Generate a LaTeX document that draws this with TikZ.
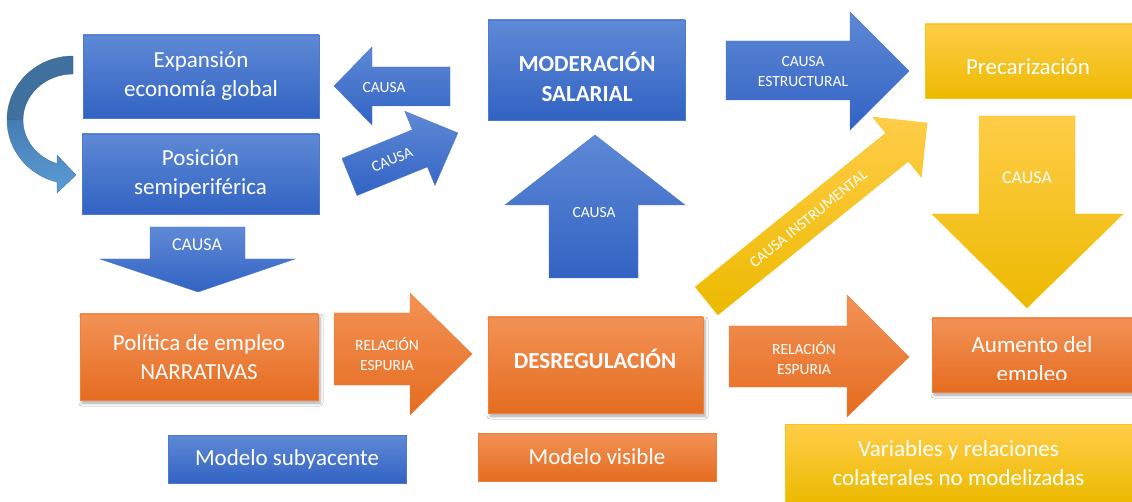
\documentclass[tikz,border=0pt]{standalone}
\usepackage{fontspec}
\setmainfont{Carlito}
\usetikzlibrary{shadows.blur}
\definecolor{bluetop}{RGB}{94,137,214}
\definecolor{bluebot}{RGB}{50,99,195}
\definecolor{blueline}{RGB}{78,122,204}
\definecolor{orangetop}{RGB}{242,146,86}
\definecolor{orangebot}{RGB}{229,108,32}
\definecolor{orangeline}{RGB}{238,128,60}
\definecolor{yellowtop}{RGB}{255,205,72}
\definecolor{yellowbot}{RGB}{236,186,0}
\definecolor{yellowline}{RGB}{252,194,20}
\definecolor{curveback}{RGB}{64,112,158}
\definecolor{curvefronttop}{RGB}{70,124,178}
\definecolor{curvefrontbot}{RGB}{92,156,214}
\tikzset{
  box/.style={draw=#1line, line width=0.6pt, top color=#1top, bottom color=#1bot, inner sep=0pt, outer sep=0pt},
  txt/.style={text=white, align=center, font=\fontsize{23}{29}\selectfont, inner sep=0pt},
  btxt/.style={text=white, align=center, font=\bfseries\fontsize{23}{30}\selectfont, inner sep=0pt},
  lbl/.style={text=white, align=center, font=\fontsize{15.5}{20}\selectfont, inner sep=0pt},
  blbl/.style={text=white, align=center, font=\fontsize{18}{22}\selectfont, inner sep=0pt},
  barrow/.style={top color=#1top, bottom color=#1bot, draw=#1line, line width=0.4pt},
  shadowed/.style={blur shadow={shadow xshift=2pt, shadow yshift=-3pt, shadow opacity=35, shadow blur radius=3pt}},
}
\begin{document}
\begin{tikzpicture}[x=1pt,y=-1pt]
\useasboundingbox[fill=white] (0,0) rectangle (1132,502);

% ---- boxes, top-left
\node[box=blue, minimum width=236pt, minimum height=83pt, txt] (exp) at (201,76.5) {Expansión\\economía global};
\node[box=blue, minimum width=237pt, minimum height=80pt, txt] (pos) at (200.5,174) {Posición\\semiperiférica};

% ---- curved arrow
\path[draw=curveback!80!black, line width=0.3pt, fill=curveback]
  (73,56) arc[start angle=270, end angle=180, x radius=66, y radius=64]
  -- (23,120) arc[start angle=180, end angle=270, x radius=50, y radius=46] -- cycle;
\path[draw=curveback, line width=0.3pt, top color=curvefronttop, bottom color=curvefrontbot]
  (7,120) arc[start angle=180, end angle=104, x radius=66, y radius=64]
  -- (57,193) -- (76,175) -- (57,155) -- (57,163.6)
  arc[start angle=108.7, end angle=180, x radius=50, y radius=46] -- cycle;

% ---- CAUSA down (left)
\path[barrow=blue] (150,227) -- (245,227) -- (245,259) -- (295,259) -- (198,292) -- (100,259) -- (150,259) -- cycle;
\node[blbl] (c1) at (197,245) {CAUSA};

% ---- CAUSA left-pointing
\path[barrow=blue] (450,67) -- (372,67) -- (372,47) -- (334,86) -- (372,125) -- (372,106) -- (450,106) -- cycle;
\node[lbl] (c2) at (384,88) {CAUSA};

% ---- CAUSA diagonal (blue)
\begin{scope}[shift={(349.5,177)}, rotate=22.15]
\path[barrow=blue] (0,-20) -- (76,-20) -- (76,-40) -- (117,0) -- (76,40) -- (76,20) -- (0,20) -- cycle;
\node[lbl, rotate=22.15] (c3) at (46,0) {CAUSA};
\end{scope}

% ---- Moderación salarial
\node[box=blue, minimum width=197pt, minimum height=100pt] (mod) at (586.5,70) {};
\node[btxt] (modt) at (587,77) {MODERACIÓN\\SALARIAL};

% ---- CAUSA up (middle)
\path[barrow=blue] (549,278) -- (549,205) -- (505,205) -- (595,135) -- (685,205) -- (638,205) -- (638,278) -- cycle;
\node[lbl] (c4) at (594,213) {CAUSA};

% ---- CAUSA ESTRUCTURAL
\path[barrow=blue] (726,41) -- (850,41) -- (850,12) -- (909,71) -- (850,130) -- (850,100) -- (726,100) -- cycle;
\node[lbl] (c5) at (803,72) {CAUSA\\ESTRUCTURAL};

% ---- Precarización
\node[box=yellow, minimum width=207pt, minimum height=74pt] (pre) at (1028.5,61) {};
\node[txt] (pret) at (1028,67) {Precarización};

% ---- CAUSA down (yellow)
\path[barrow=yellow] (979,116) -- (1075,116) -- (1075,214) -- (1123,214) -- (1027,308) -- (932,214) -- (979,214) -- cycle;
\node[blbl] (c6) at (1027,178) {CAUSA};

% ---- CAUSA INSTRUMENTAL (yellow diagonal)
\begin{scope}[shift={(706.5,301)}, rotate=38.9]
\path[barrow=yellow] (0,-18) -- (245,-18) -- (245,-38.5) -- (283.4,0) -- (245,38.5) -- (245,18) -- (0,18) -- cycle;
\node[lbl, rotate=38.9] (c7) at (131,0) {CAUSA INSTRUMENTAL};
\end{scope}

% ---- bottom row
\node[box=orange, shadowed, minimum width=238pt, minimum height=86pt, txt] (pol) at (199,357) {Política de empleo\\NARRATIVAS};

\path[barrow=orange] (334,313) -- (410,313) -- (410,293) -- (472,354) -- (410,415) -- (410,385) -- (334,385) -- cycle;
\node[lbl] (r1) at (387,354) {RELACIÓN\\ESPURIA};

\node[box=orange, shadowed, minimum width=215pt, minimum height=96pt] (des) at (595.5,365) {};
\node[btxt] (dest) at (595,359) {DESREGULACIÓN};

\path[barrow=orange] (729,326) -- (847,326) -- (847,295) -- (909,357) -- (847,417) -- (847,387) -- (729,387) -- cycle;
\node[lbl] (r2) at (804,358) {RELACIÓN\\ESPURIA};

\node[box=orange, shadowed, minimum width=200pt, minimum height=74pt] (aum) at (1032,355) {};
\begin{scope}
\clip (932,318) rectangle (1132,379);
\node[txt] (aumt) at (1032,361) {Aumento del\\empleo};
\end{scope}

% ---- legend boxes
\node[box=blue, minimum width=238pt, minimum height=48pt, txt] (sub) at (287,459) {Modelo subyacente};
\node[box=orange, minimum width=238pt, minimum height=48pt, txt] (vis) at (597,457) {Modelo visible};
\node[box=yellow, minimum width=347pt, minimum height=79pt, txt] (var) at (958.5,463.5) {Variables y relaciones\\colaterales no modelizadas};
\end{tikzpicture}
\end{document}
